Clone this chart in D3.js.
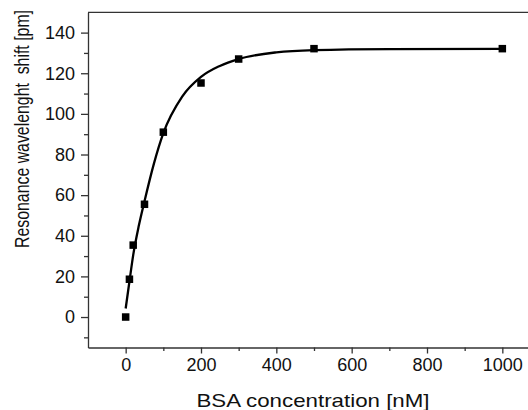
<!DOCTYPE html>
<html lang="en">
<head>
    <meta charset="UTF-8">
    <title>bsa-shift</title>
    <script src="https://cdn.jsdelivr.net/npm/d3@7"></script>
    <style>
        body { margin: 0; background: #fff; }
        text { font-family: "Liberation Sans", Arial, sans-serif; fill: #111; }
    </style>
</head>
<body>
    <svg class="chart"></svg>
</body>
<script>
    // measured points
    var conc = [0, 10, 20, 50, 100, 200, 300, 500, 1000];
    var shift = [0, 18.6, 35.4, 55.5, 91, 115.2, 127, 132.1, 132.1];

    // fitted curve
    var fitConc = [0, 10, 20, 35, 50, 75, 100, 150, 200, 250, 300, 400, 500, 700, 1000];
    var fitShift = [4.2, 17.5, 30.5, 45, 57, 75.5, 90.5, 108.5, 118.2, 123.6, 127, 130.3, 131.4, 131.9, 132];

    var xTicks = [0, 200, 400, 600, 800, 1000];
    var yTicks = [0, 20, 40, 60, 80, 100, 120, 140];

    var width = 528, height = 410;
    var mLeft = 88, mTop = 12.3, mBottom = 347.5, mRight = 540;

    var svg = d3.select('.chart')
        .attr('width', width)
        .attr('height', height);

    var x = d3.scaleLinear().domain([-100, 1100]).range([mLeft, mRight]);
    var y = d3.scaleLinear().domain([-15, 150]).range([mBottom, mTop]);

    var axisColor = '#333';

    // y axis, major + minor ticks
    svg.append('g')
        .attr('transform', 'translate(' + mLeft + ',0)')
        .call(d3.axisLeft(y).tickValues(yTicks).tickSize(7).tickPadding(6).tickSizeOuter(0));
    svg.append('g')
        .attr('transform', 'translate(' + mLeft + ',0)')
        .call(d3.axisLeft(y).tickValues(d3.range(-10, 150, 20)).tickSize(4).tickFormat('').tickSizeOuter(0))
        .select('.domain').remove();

    // x axis
    svg.append('g')
        .attr('transform', 'translate(0,' + mBottom + ')')
        .call(d3.axisBottom(x).tickValues(xTicks).tickFormat(d3.format('d')).tickSize(6).tickPadding(5).tickSizeOuter(0));
    svg.append('g')
        .attr('transform', 'translate(0,' + mBottom + ')')
        .call(d3.axisBottom(x).tickValues(d3.range(100, 1100, 200)).tickSize(3.5).tickFormat('').tickSizeOuter(0))
        .select('.domain').remove();

    svg.selectAll('.domain, .tick line')
        .attr('stroke', axisColor)
        .attr('stroke-width', 1.3);
    svg.selectAll('.tick text')
        .attr('font-size', 18)
        .attr('font-family', '"Liberation Sans", Arial, sans-serif')
        .attr('fill', '#111');

    // top frame line
    svg.append('line')
        .attr('x1', mLeft).attr('x2', mRight)
        .attr('y1', mTop).attr('y2', mTop)
        .attr('stroke', axisColor)
        .attr('stroke-width', 1.3);

    // fit line
    var line = d3.line()
        .x(function (d, i) { return x(fitConc[i]); })
        .y(function (d, i) { return y(fitShift[i]); })
        .curve(d3.curveMonotoneX);

    svg.append('path')
        .datum(fitConc)
        .attr('d', line)
        .attr('fill', 'none')
        .attr('stroke', '#000')
        .attr('stroke-width', 2.3);

    // markers
    var s = 7.5;
    svg.selectAll('rect.pt')
        .data(conc)
        .enter()
        .append('rect')
        .attr('class', 'pt')
        .attr('x', function (d) { return x(d) - s / 2; })
        .attr('y', function (d, i) { return y(shift[i]) - s / 2; })
        .attr('width', s)
        .attr('height', s)
        .attr('fill', '#000');

    // axis titles
    svg.append('text')
        .attr('x', 313)
        .attr('y', 407)
        .attr('text-anchor', 'middle')
        .attr('font-size', 19)
        .attr('textLength', 233)
        .attr('lengthAdjust', 'spacingAndGlyphs')
        .text('BSA concentration [nM]');

    svg.append('text')
        .attr('transform', 'translate(29,129) rotate(-90) scale(1,1.22)')
        .attr('text-anchor', 'middle')
        .attr('font-size', 16)
        .attr('textLength', 238)
        .attr('lengthAdjust', 'spacingAndGlyphs')
        .style('white-space', 'pre')
        .text('Resonance wavelenght  shift [pm]');
</script>
</html>
